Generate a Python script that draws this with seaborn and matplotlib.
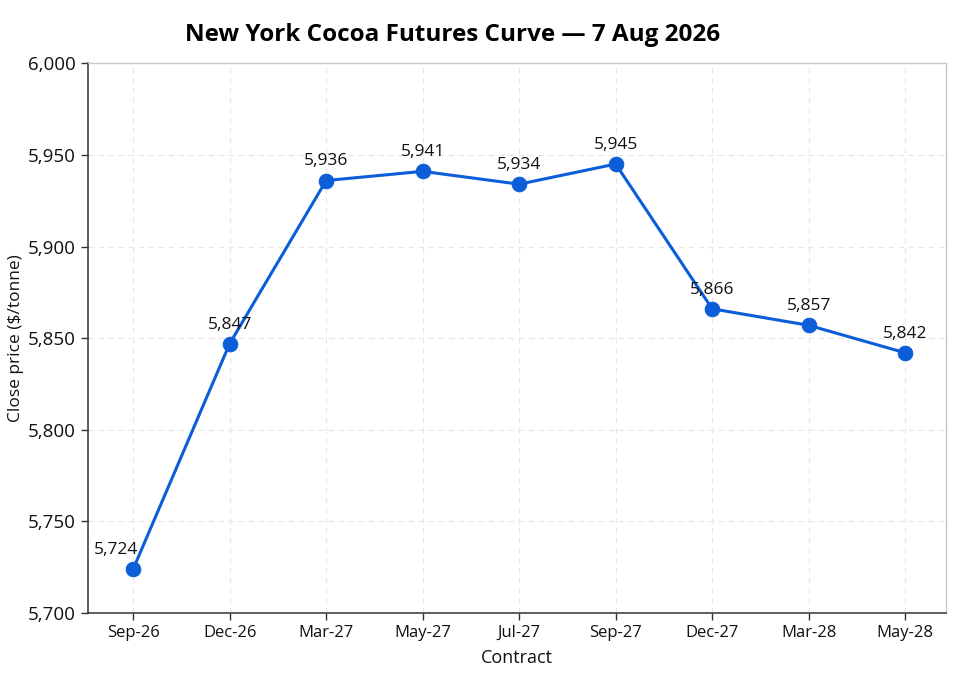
import numpy as np
import pandas as pd
import matplotlib
matplotlib.use("Agg")
import matplotlib.pyplot as plt
import seaborn as sns

contracts = ['Sep-26', 'Dec-26', 'Mar-27', 'May-27', 'Jul-27', 'Sep-27', 'Dec-27', 'Mar-28', 'May-28']
close_price = [5724, 5847, 5936, 5941, 5934, 5945, 5866, 5857, 5842]
yticks = [5700, 5750, 5800, 5850, 5900, 5950, 6000]

sns.set_theme(style="whitegrid")
plt.rcParams['font.family'] = ['Open Sans', 'DejaVu Sans']
plt.rcParams['text.color'] = '#111111'
plt.rcParams['axes.labelcolor'] = '#111111'
plt.rcParams['xtick.color'] = '#111111'
plt.rcParams['ytick.color'] = '#111111'

df = pd.DataFrame({'pos': np.arange(len(contracts)), 'contract': contracts, 'price': close_price})

fig, ax = plt.subplots(figsize=(9.65, 6.8), dpi=100)
fig.subplots_adjust(left=0.091, right=0.980, top=0.907, bottom=0.0985)

line_col = '#0B5ED7'
sns.lineplot(data=df, x='pos', y='price', ax=ax, color=line_col, linewidth=2.2,
             marker='o', markersize=10.5, markeredgecolor=line_col, sort=False)

for i, (x, y) in enumerate(zip(df['pos'], df['price'])):
    dx = -12 if i == 0 else 0
    ax.annotate(f"{y:,}", (x, y), xytext=(dx, 8), textcoords='offset points',
                ha='center', va='bottom', fontsize=12.5, color='#111111')

ax.set_xticks(df['pos'])
ax.set_xticklabels(contracts, fontsize=12)
ax.set_xlim(-0.47, len(contracts) - 1 + 0.42)
ax.set_ylim(5700, 6000)
ax.set_yticks(yticks)
ax.set_yticklabels([f"{v:,}" for v in yticks], fontsize=13.5)

ax.set_xlabel('Contract', fontsize=13, labelpad=6)
ax.set_ylabel('Close price ($/tonne)', fontsize=12.5, labelpad=3)
ax.set_title('New York Cocoa Futures Curve \u2014 7 Aug 2026', fontsize=17.5,
             fontweight='bold', x=0.425, pad=16, color='#000000')

ax.grid(True, linestyle=(0, (5, 4)), color='#e6e6e6', linewidth=0.8)
ax.set_facecolor('white')
for side in ['left', 'bottom']:
    ax.spines[side].set_color('#333333')
    ax.spines[side].set_linewidth(1.1)
for side in ['top', 'right']:
    ax.spines[side].set_color('#c8c8c8')
    ax.spines[side].set_linewidth(1.0)
ax.tick_params(axis='both', which='both', length=5, width=1, color='#333333', bottom=True, left=True)

fig.savefig('out.png', dpi=100)
plt.close(fig)
